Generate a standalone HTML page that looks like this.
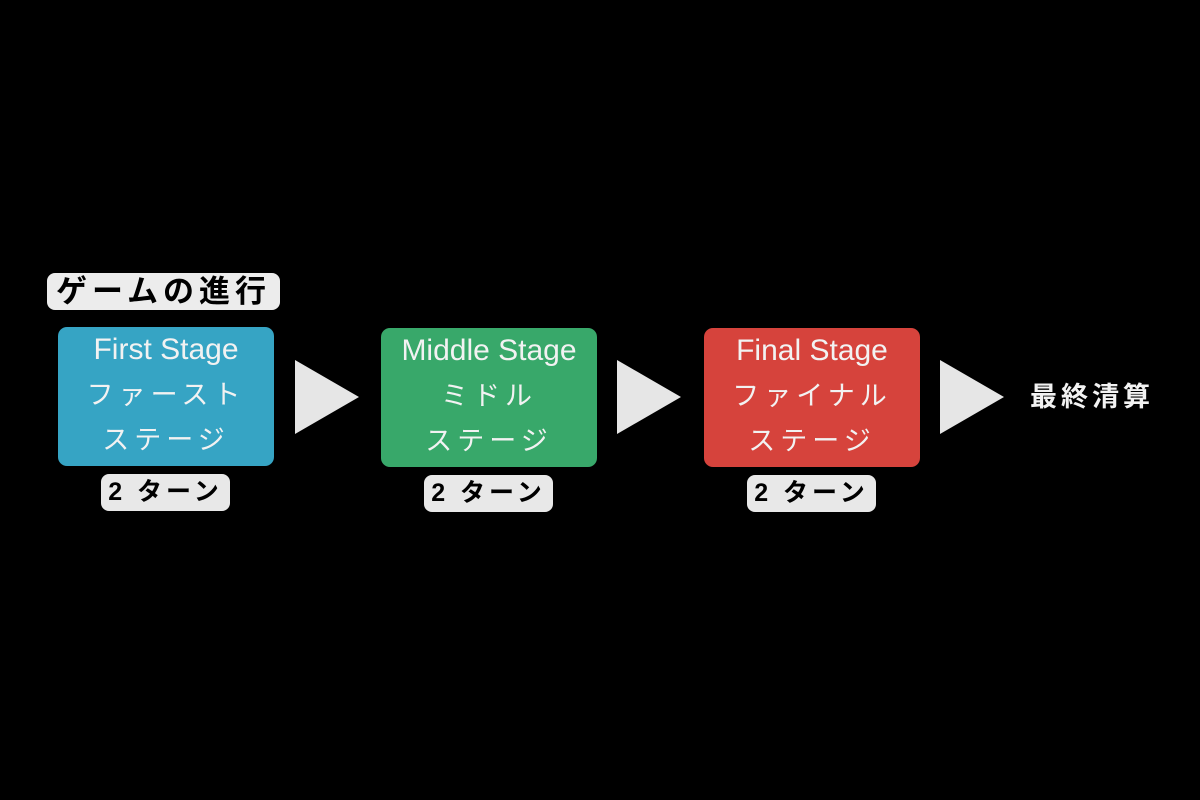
<!DOCTYPE html>
<html><head><meta charset="utf-8"><style>
body{margin:0;width:1200px;height:800px;background:#000;position:relative;overflow:hidden;font-family:"Liberation Sans","Noto Sans CJK JP",sans-serif}
.a{position:absolute}
.box{position:absolute;width:216px;height:139px;border-radius:9px;color:#f2f2f2;text-align:center;font-size:27px}
.box div{position:absolute;left:0;right:0;line-height:30px}
.l1{top:8px;font-size:30px}.l2{top:53px;letter-spacing:5px}.l3{top:98px;letter-spacing:5px}
.badge{position:absolute;width:129px;height:37px;border-radius:8px;background:#e8e8e8;color:#000;font-weight:bold;font-size:25px;line-height:37px;text-align:center;letter-spacing:4px}
.tri{position:absolute;width:0;height:0;border-top:37px solid transparent;border-bottom:37px solid transparent;border-left:64px solid #e6e6e6}
</style></head><body>
<div class="a" style="left:47px;top:273px;width:233px;height:37px;border-radius:8px;background:#ececec;color:#000;font-weight:bold;font-size:31px;line-height:37px;text-align:center;letter-spacing:5px">ゲームの進行</div>

<div class="box" style="left:58px;top:327px;background:#36a4c4"><div class="l1">First Stage</div><div class="l2">ファースト</div><div class="l3">ステージ</div></div>
<div class="badge" style="left:101px;top:474px">2 ターン</div>
<div class="tri" style="left:295px;top:360px"></div>

<div class="box" style="left:381px;top:328px;background:#38a86a"><div class="l1">Middle Stage</div><div class="l2">ミドル</div><div class="l3">ステージ</div></div>
<div class="badge" style="left:424px;top:475px">2 ターン</div>
<div class="tri" style="left:617px;top:360px"></div>

<div class="box" style="left:704px;top:328px;background:#d6433c"><div class="l1">Final Stage</div><div class="l2">ファイナル</div><div class="l3">ステージ</div></div>
<div class="badge" style="left:747px;top:475px">2 ターン</div>
<div class="tri" style="left:940px;top:360px"></div>

<div class="a" style="left:1030px;top:381px;color:#f2f2f2;font-weight:bold;font-size:27px;line-height:32px;letter-spacing:4px">最終清算</div>
</body></html>
